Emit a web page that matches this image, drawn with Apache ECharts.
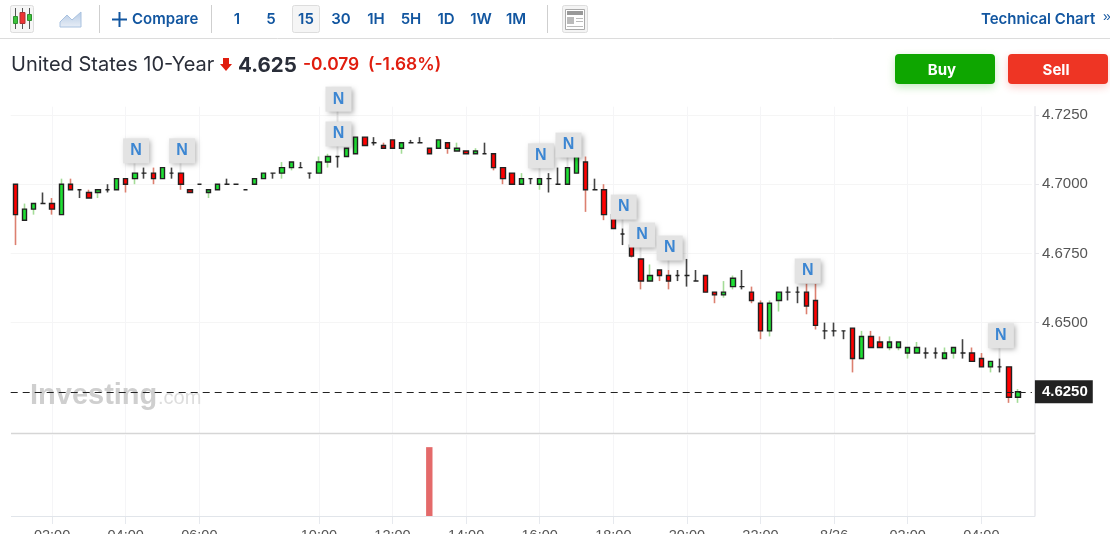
<!DOCTYPE html>
<html>
<head>
<meta charset="utf-8">
<style>html,body{margin:0;padding:0;background:#fff;overflow:hidden}#c{width:1110px;height:534px}</style>
<script src="https://cdn.jsdelivr.net/npm/echarts@6/dist/echarts.min.js"></script>
</head>
<body>
<div id="c"></div>
<script>
const categories = ["01:00","01:15","01:30","01:45","02:00","02:15","02:30","02:45","03:00","03:15","03:30","03:45","04:00","04:15","04:30","04:45","05:00","05:15","05:30","05:45","06:00","06:15","06:30","06:45","07:00","07:15","07:30","07:45","08:45","09:00","09:15","09:30","09:45","10:00","10:15","10:30","10:45","11:00","11:15","11:30","11:45","12:00","12:15","12:30","12:45","13:00","13:15","13:30","13:45","14:00","14:15","14:30","14:45","15:00","15:15","15:30","15:45","16:00","16:15","16:30","16:45","17:00","17:15","17:30","17:45","18:00","18:15","18:30","18:45","19:00","19:15","19:30","19:45","20:00","20:15","20:30","20:45","21:00","21:15","21:30","21:45","22:00","22:15","22:30","22:45","23:00","23:15","23:30","23:45","8/26","00:15","00:30","00:45","01:00","01:15","01:30","01:45","02:00","02:15","02:30","02:45","03:00","03:15","03:30","03:45","04:00","04:15","04:30","04:45","05:00",""];
const opens = [4.700,4.687,4.691,4.693,4.693,4.689,4.700,4.698,4.697,4.697,4.698,4.698,4.702,4.702,4.704,4.704,4.702,4.704,4.704,4.698,4.700,4.697,4.698,4.700,4.700,4.698,4.700,4.702,4.704,4.704,4.706,4.706,4.704,4.704,4.708,4.710,4.710,4.711,4.717,4.715,4.714,4.716,4.713,4.715,4.715,4.713,4.713,4.715,4.712,4.712,4.711,4.711,4.711,4.706,4.704,4.700,4.702,4.700,4.702,4.700,4.700,4.704,4.708,4.698,4.698,4.689,4.682,4.678,4.673,4.665,4.669,4.667,4.667,4.667,4.665,4.667,4.661,4.660,4.663,4.663,4.661,4.657,4.647,4.658,4.661,4.661,4.661,4.658,4.647,4.647,4.647,4.648,4.637,4.645,4.643,4.641,4.641,4.639,4.639,4.639,4.639,4.637,4.639,4.639,4.639,4.637,4.634,4.634,4.634,4.623];
const closes = [4.689,4.691,4.693,4.693,4.691,4.700,4.698,4.698,4.695,4.698,4.698,4.702,4.700,4.704,4.704,4.702,4.706,4.704,4.700,4.697,4.700,4.698,4.700,4.700,4.700,4.698,4.702,4.704,4.704,4.706,4.708,4.706,4.704,4.708,4.710,4.710,4.713,4.717,4.714,4.715,4.713,4.713,4.715,4.715,4.715,4.711,4.716,4.713,4.713,4.711,4.712,4.711,4.706,4.702,4.700,4.702,4.702,4.702,4.702,4.700,4.706,4.710,4.698,4.698,4.689,4.684,4.682,4.674,4.665,4.667,4.667,4.665,4.667,4.667,4.665,4.661,4.660,4.661,4.666,4.663,4.658,4.647,4.657,4.661,4.661,4.661,4.656,4.649,4.647,4.647,4.647,4.637,4.645,4.641,4.641,4.643,4.643,4.641,4.641,4.639,4.639,4.639,4.641,4.639,4.636,4.634,4.636,4.634,4.623,4.625];
const lows = [4.678,4.687,4.689,4.693,4.689,4.689,4.698,4.695,4.695,4.695,4.697,4.698,4.697,4.700,4.702,4.700,4.702,4.702,4.698,4.697,4.700,4.695,4.698,4.700,4.700,4.698,4.700,4.702,4.702,4.702,4.705,4.706,4.702,4.704,4.706,4.706,4.710,4.711,4.714,4.714,4.713,4.713,4.711,4.715,4.715,4.711,4.713,4.711,4.712,4.711,4.711,4.711,4.705,4.700,4.700,4.700,4.700,4.698,4.697,4.700,4.700,4.704,4.690,4.698,4.687,4.684,4.678,4.6735,4.662,4.665,4.665,4.662,4.665,4.663,4.665,4.661,4.657,4.659,4.662,4.662,4.657,4.644,4.645,4.654,4.658,4.657,4.653,4.6475,4.644,4.645,4.644,4.632,4.637,4.641,4.641,4.640,4.640,4.637,4.639,4.637,4.637,4.637,4.637,4.637,4.636,4.634,4.632,4.632,4.621,4.621];
const highs = [4.700,4.693,4.693,4.697,4.695,4.702,4.702,4.698,4.698,4.698,4.700,4.702,4.702,4.704,4.706,4.706,4.706,4.706,4.704,4.698,4.700,4.698,4.700,4.702,4.700,4.698,4.702,4.704,4.704,4.708,4.708,4.708,4.704,4.710,4.711,4.710,4.713,4.717,4.717,4.717,4.715,4.716,4.715,4.716,4.717,4.713,4.716,4.715,4.715,4.712,4.713,4.715,4.711,4.706,4.704,4.704,4.702,4.702,4.704,4.706,4.706,4.710,4.710,4.702,4.700,4.689,4.684,4.680,4.673,4.671,4.669,4.669,4.669,4.673,4.669,4.667,4.661,4.665,4.667,4.669,4.663,4.658,4.658,4.661,4.663,4.663,4.664,4.664,4.650,4.650,4.647,4.648,4.647,4.647,4.645,4.645,4.643,4.641,4.643,4.641,4.641,4.641,4.641,4.644,4.641,4.639,4.636,4.637,4.634,4.626];
const volumeIndex = [45];
const volumeValues = [85];
const tickIndex = [4,12,20,33,41,49,57,65,73,81,89,97,105];
const priceTicks = [4.65,4.675,4.7,4.725];
const lastPrice = 4.625;
const newsIndex = [13,18,35,35,57,60,66,68,71,86,107];
const newsLevel = [4.7124,4.7124,4.7311,4.7185,4.7106,4.7145,4.6921,4.6820,4.6773,4.6690,4.6456];
const volumeMax = 100;
const priceMin = 4.61, priceMax = 4.728;

const F = 'Inter, "Noto Sans", sans-serif';
const BLUE = '#1256a0';
function text(x,y,t,font,fill,align){return {type:'text',x:x,y:y,silent:true,z:1,style:{text:t,font:font,fill:fill,align:align||'left',verticalAlign:'middle'}};}
function rect(x,y,w,h,fill,stroke,r,extra){return {type:'rect',silent:true,z:1,shape:{x:x,y:y,width:w,height:h,r:r||0},style:Object.assign({fill:fill,stroke:stroke||null,lineWidth:1},extra||{})};}
function hline(x1,x2,y,c,w){return {type:'line',silent:true,z:1,shape:{x1:x1,y1:y,x2:x2,y2:y},style:{stroke:c,lineWidth:w||1}};}
function vline(x,y1,y2,c,w){return {type:'line',silent:true,z:1,shape:{x1:x,y1:y1,x2:x,y2:y2},style:{stroke:c,lineWidth:w||1}};}
function poly(pts,fill,stroke){return {type:'polygon',silent:true,z:1,shape:{points:pts},style:{fill:fill,stroke:stroke||null}};}

const TB = '600 15px '+F;
const chrome = [
  hline(0,1110,38.5,'#dcdcdc'),
  rect(10.5,5.5,23,27,'#f6f6f6','#dddddd',2),
  vline(15.5,8,29,'#555'),vline(22.5,8,29,'#555'),vline(29.5,8,29,'#555'),
  rect(13.5,16.5,4,7,'#3cc43c','#2f8f2f'),rect(20,12.5,5,11,'#ee3333','#a33'),rect(27.5,14.5,4,6,'#3cc43c','#2f8f2f'),
  poly([[60,22],[67,15],[72,20],[81,12],[81,27],[60,27]],new echarts.graphic.LinearGradient(0,0,0,1,[{offset:0,color:'#b4c9e4'},{offset:1,color:'#e9eff7'}]),'#a9c2e0'),
  vline(99.5,5,33,'#cfcfcf'),
  hline(112,127,19.5,BLUE,2),vline(119.5,12,27,BLUE,2),
  text(132,19,'Compare',TB,BLUE),
  vline(211.5,5,33,'#cfcfcf'),
  rect(292.5,5.5,27,27,'#f5f5f5','#dddddd',2),
  text(237,19,'1',TB,BLUE,'center'),
  text(271,19,'5',TB,BLUE,'center'),
  text(306,19,'15',TB,BLUE,'center'),
  text(341,19,'30',TB,BLUE,'center'),
  text(376,19,'1H',TB,BLUE,'center'),
  text(411,19,'5H',TB,BLUE,'center'),
  text(446,19,'1D',TB,BLUE,'center'),
  text(481,19,'1W',TB,BLUE,'center'),
  text(516,19,'1M',TB,BLUE,'center'),
  vline(547.5,5,33,'#cfcfcf'),
  rect(562.5,5.5,25,27,'#f4f4f4','#dddddd',2),
  rect(565.5,9.5,19,20,'#ffffff','#aaaaaa'),
  rect(567,11,16,4,'#999999'),rect(567,17,7,7,'#bbbbbb'),
  hline(576,583,18.5,'#bbb'),hline(576,583,21.5,'#bbb'),hline(567,583,26.5,'#bbb'),
  text(981,19,'Technical Chart',TB,BLUE),
  text(1103,17,'\u00BB','14px "Liberation Sans"',BLUE),
  text(11,64.5,'United States 10-Year','20px '+F,'#2a2e39'),
  poly([[223,58],[229,58],[229,64],[232,64],[226,71],[220,64],[223,64]],'#e01d0e'),
  text(238,65.5,'4.625','bold 20.5px '+F,'#2a2e39'),
  text(303,64.5,'-0.079','600 17.4px '+F,'#e01d0e'),
  text(368,64.5,'(-1.68%)','600 17.4px '+F,'#e01d0e'),
  rect(895,54,100,30,'#0ea600',null,4,{shadowBlur:8,shadowOffsetY:3,shadowColor:'rgba(14,166,0,.25)'}),
  text(942,70.5,'Buy','bold 15px '+F,'#ffffff','center'),
  rect(1008,54,100,30,'#ee3524',null,4,{shadowBlur:8,shadowOffsetY:3,shadowColor:'rgba(238,53,36,.25)'}),
  text(1056,70.5,'Sell','bold 15px '+F,'#ffffff','center'),
  text(30,396,'Investing','bold 29px "Liberation Sans"','#cfcfcf'),
  text(158,398,'.com','20px "Liberation Sans"','#dddddd'),
  hline(11,1035,433.5,'#d6d6d6',1.6),
  hline(11,1035,516.5,'#e1e5ea',1.2)
];

const wicks = categories.slice(0,opens.length).map((c,i)=>[opens[i],closes[i],lows[i],highs[i]]);
const bodies = wicks.map(d=>[d[0],d[1],Math.min(d[0],d[1]),Math.max(d[0],d[1])]);
const stems = wicks.map((d,i)=>{
  const lv = newsIndex.map((n,k)=>n===i?newsLevel[k]:null).filter(v=>v!==null);
  if(!lv.length) return ['-','-','-','-'];
  const t=Math.max.apply(null,lv); return [t,t,d[3],t];
});
const news = newsIndex.map((n,i)=>[n,newsLevel[i]]);
const vols = volumeIndex.map((n,i)=>[n,volumeValues[i]]);

const chart = echarts.init(document.getElementById('c'),null,{renderer:'canvas'});
const gridSplit = {show:true,alignWithLabel:true,interval:(i)=>tickIndex.includes(i),lineStyle:{color:'#f5f5f7',width:1}};
chart.setOption({
  animation:false,
  backgroundColor:'#fff',
  graphic:chrome,
  grid:[
    {left:10.7,width:1021.2,top:106.7,height:326.6,outerBoundsMode:'none'},
    {left:10.7,width:1021.2,top:435,height:81,outerBoundsMode:'none'}
  ],
  xAxis:[
    {type:'category',gridIndex:0,data:categories,boundaryGap:true,
     axisLine:{show:false},axisTick:{show:false},axisLabel:{show:false},splitLine:gridSplit},
    {type:'category',gridIndex:1,data:categories,boundaryGap:true,
     axisLine:{show:false},axisTick:{show:true,alignWithLabel:true,length:8,interval:(i)=>tickIndex.includes(i),lineStyle:{color:'#e6e9ee'}},
     axisLabel:{show:true,interval:(i)=>tickIndex.includes(i),hideOverlap:false,margin:12,fontFamily:'"Liberation Sans"',fontSize:14.5,color:'#555',align:'center'},
     splitLine:gridSplit}
  ],
  yAxis:[
    {type:'value',gridIndex:0,position:'right',offset:3.1,min:priceMin,max:priceMax,scale:true,
     axisLine:{show:true,lineStyle:{color:'#e8e8ec',width:1.5}},
     axisTick:{show:true,length:4,customValues:priceTicks,lineStyle:{color:'#e8e8ec'}},
     axisLabel:{show:true,margin:7,customValues:priceTicks,formatter:(v)=>v.toFixed(4),fontFamily:'"Liberation Sans"',fontSize:15,color:'#555'},
     splitLine:{show:true,lineStyle:{color:'#f5f5f5',width:1}}},
    {type:'value',gridIndex:1,position:'right',offset:3.1,min:0,max:volumeMax,
     axisLine:{show:true,lineStyle:{color:'#e8e8ec',width:1.5}},axisTick:{show:false},axisLabel:{show:false},splitLine:{show:false}}
  ],
  series:[
    {name:'stems',type:'candlestick',xAxisIndex:0,yAxisIndex:0,barWidth:1,z:3,clip:false,data:stems,
     itemStyle:{color:'#e4e4e4',color0:'#e4e4e4',borderColor:'#e4e4e4',borderColor0:'#e4e4e4',borderColorDoji:'#e4e4e4',borderWidth:2}},
    {name:'wicks',type:'candlestick',xAxisIndex:0,yAxisIndex:0,barWidth:1,z:4,data:wicks,
     itemStyle:{color:'#a4dc98',color0:'#dc8070',borderColor:'#a4dc98',borderColor0:'#dc8070',borderColorDoji:'#444444',borderWidth:1.6}},
    {name:'bodies',type:'candlestick',xAxisIndex:0,yAxisIndex:0,barWidth:5,z:5,data:bodies,
     itemStyle:{color:'#1fe034',color0:'#ff0000',borderColor:'#222222',borderColor0:'#222222',borderColorDoji:'#222222',borderWidth:1.4},
     markLine:{silent:true,symbol:'none',animation:false,z:7,precision:4,
       lineStyle:{color:'#222',type:[7,5],width:1},
       label:{show:true,position:'end',distance:3,formatter:(p)=>p.value.toFixed(4),backgroundColor:'#222',color:'#fff',fontFamily:'"Liberation Sans"',fontWeight:'bold',fontSize:15,padding:[4,5,4,7]},
       data:[{yAxis:lastPrice}]}},
    {name:'news',type:'scatter',xAxisIndex:0,yAxisIndex:0,clip:false,z:6,data:news,symbol:'rect',symbolSize:[26,25],symbolOffset:[1.2,1],
     itemStyle:{color:'#e3e3e3',opacity:1,shadowBlur:5,shadowOffsetX:2,shadowOffsetY:2,shadowColor:'rgba(0,0,0,.3)'},
     label:{show:true,position:'inside',formatter:'N',color:'#3c86d2',fontFamily:'"Liberation Sans"',fontWeight:'bold',fontSize:16}},
    {name:'volume',type:'bar',xAxisIndex:1,yAxisIndex:1,barWidth:6.4,data:vols,itemStyle:{color:'#e46a6a'}}
  ]
});
</script>
</body>
</html>
